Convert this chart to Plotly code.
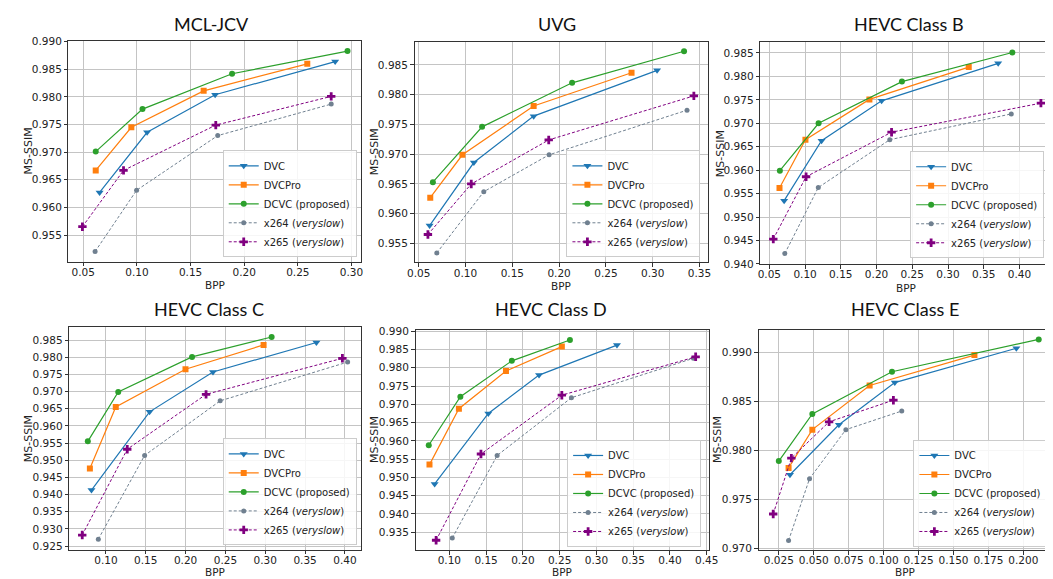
import plotly.graph_objects as go

W, H = 1053, 579

# ---------------- data (BPP, MS-SSIM) ----------------
panel_titles = ["MCL-JCV", "UVG", "HEVC Class B", "HEVC Class C", "HEVC Class D", "HEVC Class E"]
series_names = ["DVC", "DVCPro", "DCVC (proposed)", "x264 (<i>veryslow</i>)", "x265 (<i>veryslow</i>)"]

mcl_dvc_bpp = [0.0652, 0.1095, 0.1729, 0.2848]
mcl_dvc_ssim = [0.9627, 0.9736, 0.9804, 0.9864]
mcl_dvcpro_bpp = [0.0616, 0.0948, 0.1622, 0.2588]
mcl_dvcpro_ssim = [0.9667, 0.9745, 0.9811, 0.9860]
mcl_dcvc_bpp = [0.0616, 0.1052, 0.1887, 0.2963]
mcl_dcvc_ssim = [0.9701, 0.9778, 0.9842, 0.9883]
mcl_x264_bpp = [0.0610, 0.0997, 0.1753, 0.2811]
mcl_x264_ssim = [0.9520, 0.9631, 0.9730, 0.9787]
mcl_x265_bpp = [0.0492, 0.0875, 0.1735, 0.2811]
mcl_x265_ssim = [0.9565, 0.9667, 0.9749, 0.9801]

uvg_dvc_bpp = [0.0616, 0.1089, 0.1728, 0.3047]
uvg_dvc_ssim = [0.9580, 0.9686, 0.9764, 0.9841]
uvg_dvcpro_bpp = [0.0623, 0.0967, 0.1728, 0.2774]
uvg_dvcpro_ssim = [0.9627, 0.9699, 0.9781, 0.9837]
uvg_dcvc_bpp = [0.0651, 0.1177, 0.2139, 0.3335]
uvg_dcvc_ssim = [0.9653, 0.9746, 0.9820, 0.9873]
uvg_x264_bpp = [0.0693, 0.1195, 0.1893, 0.3367]
uvg_x264_ssim = [0.9534, 0.9637, 0.9699, 0.9774]
uvg_x265_bpp = [0.0598, 0.1061, 0.1889, 0.3440]
uvg_x265_ssim = [0.9565, 0.9650, 0.9724, 0.9798]

b_dvc_bpp = [0.0707, 0.1230, 0.2071, 0.3702]
b_dvc_ssim = [0.9535, 0.9663, 0.9748, 0.9828]
b_dvcpro_bpp = [0.0642, 0.1005, 0.1900, 0.3290]
b_dvcpro_ssim = [0.9562, 0.9665, 0.9751, 0.9820]
b_dcvc_bpp = [0.0647, 0.1189, 0.2355, 0.3900]
b_dcvc_ssim = [0.9599, 0.9700, 0.9789, 0.9851]
b_x264_bpp = [0.0716, 0.1185, 0.2185, 0.3885]
b_x264_ssim = [0.9422, 0.9563, 0.9665, 0.9720]
b_x265_bpp = [0.0555, 0.1014, 0.2210, 0.4300]
b_x265_ssim = [0.9453, 0.9586, 0.9681, 0.9743]

c_dvc_bpp = [0.0819, 0.1548, 0.2344, 0.3642]
c_dvc_ssim = [0.9413, 0.9641, 0.9757, 0.9843]
c_dvcpro_bpp = [0.0799, 0.1124, 0.1999, 0.2979]
c_dvcpro_ssim = [0.9476, 0.9655, 0.9765, 0.9836]
c_dcvc_bpp = [0.0773, 0.1155, 0.2081, 0.3080]
c_dcvc_ssim = [0.9555, 0.9699, 0.9801, 0.9859]
c_x264_bpp = [0.0905, 0.1486, 0.2434, 0.4034]
c_x264_ssim = [0.9270, 0.9514, 0.9673, 0.9786]
c_x265_bpp = [0.0703, 0.1268, 0.2257, 0.3968]
c_x265_ssim = [0.9282, 0.9532, 0.9692, 0.9797]

d_dvc_bpp = [0.0800, 0.1530, 0.2220, 0.3280]
d_dvc_ssim = [0.9482, 0.9675, 0.9780, 0.9862]
d_dvcpro_bpp = [0.0730, 0.1130, 0.1770, 0.2530]
d_dvcpro_ssim = [0.9535, 0.9688, 0.9791, 0.9858]
d_dcvc_bpp = [0.0720, 0.1150, 0.1850, 0.2640]
d_dcvc_ssim = [0.9588, 0.9721, 0.9819, 0.9876]
d_x264_bpp = [0.1040, 0.1650, 0.2660, 0.4320]
d_x264_ssim = [0.9334, 0.9560, 0.9718, 0.9826]
d_x265_bpp = [0.0820, 0.1430, 0.2530, 0.4350]
d_x265_ssim = [0.9328, 0.9564, 0.9725, 0.9830]

e_dvc_bpp = [0.0330, 0.0680, 0.1080, 0.1950]
e_dvc_ssim = [0.9775, 0.9826, 0.9869, 0.9904]
e_dvcpro_bpp = [0.0320, 0.0490, 0.0900, 0.1650]
e_dvcpro_ssim = [0.9782, 0.9821, 0.9866, 0.9897]
e_dcvc_bpp = [0.0250, 0.0490, 0.1060, 0.2110]
e_dcvc_ssim = [0.9789, 0.9837, 0.9880, 0.9913]
e_x264_bpp = [0.0320, 0.0470, 0.0730, 0.1130]
e_x264_ssim = [0.9708, 0.9771, 0.9821, 0.9840]
e_x265_bpp = [0.0210, 0.0340, 0.0610, 0.1070]
e_x265_ssim = [0.9735, 0.9792, 0.9829, 0.9851]

panels_data = [
    [(mcl_dvc_bpp, mcl_dvc_ssim), (mcl_dvcpro_bpp, mcl_dvcpro_ssim), (mcl_dcvc_bpp, mcl_dcvc_ssim),
     (mcl_x264_bpp, mcl_x264_ssim), (mcl_x265_bpp, mcl_x265_ssim)],
    [(uvg_dvc_bpp, uvg_dvc_ssim), (uvg_dvcpro_bpp, uvg_dvcpro_ssim), (uvg_dcvc_bpp, uvg_dcvc_ssim),
     (uvg_x264_bpp, uvg_x264_ssim), (uvg_x265_bpp, uvg_x265_ssim)],
    [(b_dvc_bpp, b_dvc_ssim), (b_dvcpro_bpp, b_dvcpro_ssim), (b_dcvc_bpp, b_dcvc_ssim),
     (b_x264_bpp, b_x264_ssim), (b_x265_bpp, b_x265_ssim)],
    [(c_dvc_bpp, c_dvc_ssim), (c_dvcpro_bpp, c_dvcpro_ssim), (c_dcvc_bpp, c_dcvc_ssim),
     (c_x264_bpp, c_x264_ssim), (c_x265_bpp, c_x265_ssim)],
    [(d_dvc_bpp, d_dvc_ssim), (d_dvcpro_bpp, d_dvcpro_ssim), (d_dcvc_bpp, d_dcvc_ssim),
     (d_x264_bpp, d_x264_ssim), (d_x265_bpp, d_x265_ssim)],
    [(e_dvc_bpp, e_dvc_ssim), (e_dvcpro_bpp, e_dvcpro_ssim), (e_dcvc_bpp, e_dcvc_ssim),
     (e_x264_bpp, e_x264_ssim), (e_x265_bpp, e_x265_ssim)],
]

# ---------------- layout / style ----------------
styles = [
    dict(color="#1f77b4", symbol="triangle-down", size=7, dash="solid", width=1.2),
    dict(color="#ff7f0e", symbol="square", size=6, dash="solid", width=1.2),
    dict(color="#2ca02c", symbol="circle", size=6, dash="solid", width=1.2),
    dict(color="#708090", symbol="circle", size=5, dash="3px,2px", width=1),
    dict(color="#800080", symbol="cross", size=7, dash="3px,2px", width=1),
]

# axes boxes in pixels: left, right, top, bottom
boxes = [
    (54.3, 351.7, 27.7, 252.3),
    (405.7, 703.3, 28.3, 253.3),
    (756.7, 1053.0, 29.0, 255.0),
    (55.0, 351.7, 319.3, 546.0),
    (406.7, 704.6, 321.7, 546.7),
    (755.0, 1053.0, 321.7, 546.7),
]
xranges = [[0.0362, 0.3092], [0.0455, 0.3587], [0.0372, 0.4455],
           [0.0539, 0.4206], [0.054, 0.453], [0.0105, 0.2205]]
yranges = [[0.9502, 0.9901], [0.9518, 0.9889], [0.93995, 0.98725],
           [0.92395, 0.98875], [0.93005, 0.99045], [0.9698, 0.9923]]
x_dticks = [0.05, 0.05, 0.05, 0.05, 0.05, 0.025]
x_formats = [".2f", ".2f", ".2f", ".2f", ".2f", ".3f"]
legend_pos = [(347, 248), (696, 248), (1045, 249), (347, 541.7), (696.7, 543.3), (1048.3, 543.3)]
title_pos = [(200, 10), (550, 10), (908, 10), (197.5, 301), (544.5, 301), (904, 301)]
bpp_offset = [24, 24, 24, 22.5, 22, 22]

TICK_FONT = dict(family="DejaVu Sans", size=10.5, color="#222222")
AX_COLOR = "#333333"
GRID = "#c4c4c4"

fig = go.Figure()
layout = dict(
    width=W, height=H, autosize=False,
    margin=dict(l=0, r=0, t=0, b=0),
    paper_bgcolor="white", plot_bgcolor="white",
    showlegend=True,
)
annotations = []

for i in range(6):
    n = i + 1
    xa = "x" if n == 1 else f"x{n}"
    ya = "y" if n == 1 else f"y{n}"
    lg = "legend" if n == 1 else f"legend{n}"
    for s, (xs, ys) in enumerate(panels_data[i]):
        st = styles[s]
        fig.add_trace(go.Scatter(
            x=xs, y=ys, mode="lines+markers", name=series_names[s],
            xaxis=xa, yaxis=ya, legend=lg,
            line=dict(color=st["color"], width=st["width"], dash=st["dash"]),
            marker=dict(color=st["color"], symbol=st["symbol"], size=st["size"], line=dict(width=0)),
            showlegend=True,
        ))
    l, r, t, b = boxes[i]
    axkey = "xaxis" if n == 1 else f"xaxis{n}"
    aykey = "yaxis" if n == 1 else f"yaxis{n}"
    layout[axkey] = dict(
        domain=[l / W, r / W], anchor=ya, range=xranges[i],
        tick0=0, dtick=x_dticks[i], tickformat=x_formats[i],
        showgrid=True, gridcolor=GRID, gridwidth=1, zeroline=False,
        showline=True, linecolor=AX_COLOR, linewidth=1, mirror=True,
        ticks="outside", ticklen=3.5, tickcolor=AX_COLOR, tickfont=TICK_FONT,
        ticklabelstandoff=-3,
    )
    layout[aykey] = dict(
        domain=[1 - b / H, 1 - t / H], anchor=xa, range=yranges[i],
        tick0=0, dtick=0.005, tickformat=".3f",
        showgrid=True, gridcolor=GRID, gridwidth=1, zeroline=False,
        showline=True, linecolor=AX_COLOR, linewidth=1, mirror=True,
        ticks="outside", ticklen=3.5, tickcolor=AX_COLOR, tickfont=TICK_FONT,
    )
    lx, ly = legend_pos[i]
    layout[lg] = dict(
        x=lx / W, y=1 - ly / H, xanchor="right", yanchor="bottom",
        xref="paper", yref="paper",
        bgcolor="rgba(255,255,255,0.85)", bordercolor="#cccccc", borderwidth=1,
        font=dict(family="DejaVu Sans", size=10, color="#222222"),
        itemwidth=30, tracegroupgap=0,
    )
    # titles and axis labels
    tx, ty = title_pos[i]
    annotations.append(dict(
        text=panel_titles[i], x=tx / W, y=1 - ty / H, xref="paper", yref="paper",
        xanchor="center", yanchor="middle", showarrow=False,
        font=dict(family="Lato", size=18, color="#111111"),
    ))
    annotations.append(dict(
        text="BPP", x=(l + r) / 2 / W, y=1 - (b + bpp_offset[i]) / H, xref="paper", yref="paper",
        xanchor="center", yanchor="middle", showarrow=False,
        font=dict(family="DejaVu Sans", size=10.5, color="#222222"),
    ))
    annotations.append(dict(
        text="MS-SSIM", x=(l - 41) / W, y=1 - (t + b) / 2 / H, xref="paper", yref="paper",
        xanchor="center", yanchor="middle", showarrow=False, textangle=-90,
        font=dict(family="DejaVu Sans", size=11, color="#222222"),
    ))

layout["annotations"] = annotations
fig.update_layout(**layout)
fig.write_html("out.html")
